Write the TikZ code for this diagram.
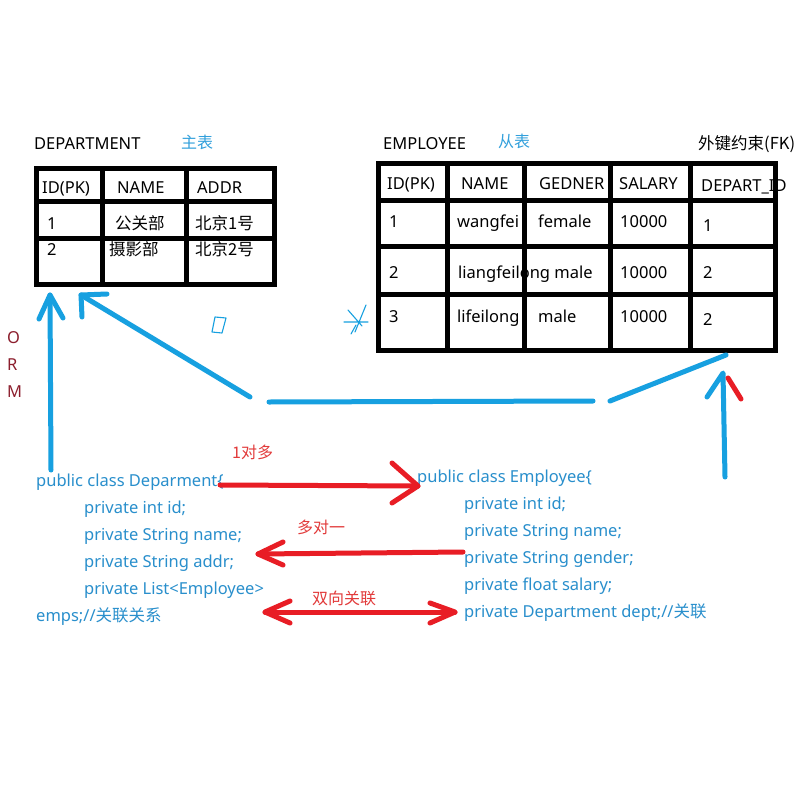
\documentclass[tikz,border=0pt]{standalone}
\usepackage{fontspec}
\setmainfont{Noto Sans}
\newfontfamily\cjk{Noto Sans CJK SC}
\definecolor{lineblue}{RGB}{23,160,224}
\definecolor{codeblue}{RGB}{41,143,204}
\definecolor{tagblue}{RGB}{50,160,220}
\definecolor{arrred}{RGB}{232,29,37}
\definecolor{labred}{RGB}{226,58,58}
\definecolor{ormred}{RGB}{140,30,45}
\begin{document}
\begin{tikzpicture}[x=1pt,y=-1pt,
  every node/.style={inner sep=0pt, anchor=base west, font=\fontsize{16.5}{19}\selectfont},
  blk/.style={draw=black, line width=5pt},
  bl/.style={draw=lineblue, line width=5pt, line cap=round, line join=round},
  thinbl/.style={draw=lineblue, line width=1.1pt, line cap=round, line join=round},
  rd/.style={draw=arrred, line width=5pt, line cap=round, line join=round},
  code/.style={text=codeblue},
  tag/.style={text=tagblue, font=\cjk\fontsize{16}{19}\selectfont},
  lab/.style={text=labred, font=\cjk\fontsize{16}{19}\selectfont},
  orm/.style={text=ormred}]
\fill[white] (0,0) rectangle (800,800);
\useasboundingbox (0,0) rectangle (800,800);

% ---- DEPARTMENT table ----
\node (dt) at (34,149) {DEPARTMENT};
\node[tag] (dtag) at (181,148) {主表};
\node (dh1) at (42,193) {ID(PK)};
\node (dh2) at (117,193) {NAME};
\node (dh3) at (197,193) {ADDR};
\node (d11) at (47,229) {1};
\node (d12) at (115,229) {\cjk 公关部};
\node (d13) at (195,229) {\cjk 北京1号};
\node (d21) at (47,255) {2};
\node (d22) at (109,255) {\cjk 摄影部};
\node (d23) at (195,255) {\cjk 北京2号};
\draw[blk] (36,168) rectangle (274,284);
\draw[blk] (102,168) -- (102,284) (186,168) -- (186,284)
           (36,201) -- (274,201) (36,238) -- (274,238);

% ---- EMPLOYEE table ----
\node (et) at (383,149) {EMPLOYEE};
\node[tag] (etag) at (498,147) {从表};
\node (fk) at (698,149) {\cjk 外键约束(FK)};
\node (eh1) at (387,189) {ID(PK)};
\node (eh2) at (461,189) {NAME};
\node (eh3) at (539,189) {GEDNER};
\node (eh4) at (619,189) {SALARY};
\node (eh5) at (701,191) {DEPART\_ID};
\node (e11) at (389,227) {1};
\node (e12) at (457,227) {wangfei};
\node (e13) at (538,227) {female};
\node (e14) at (620,227) {10000};
\node (e15) at (703,231) {1};
\node (e21) at (389,278) {2};
\node (e22) at (458,278) {liangfeilong male};
\node (e24) at (620,278) {10000};
\node (e25) at (703,278) {2};
\node (e31) at (389,322) {3};
\node (e32) at (457,322) {lifeilong};
\node (e33) at (538,322) {male};
\node (e34) at (620,322) {10000};
\node (e35) at (703,325) {2};
\draw[blk] (378,163) rectangle (775,350);
\draw[blk] (447,163) -- (447,350) (524,163) -- (524,352) (610,163) -- (610,352) (690,163) -- (690,350)
           (378,200) -- (775,200) (376,246) -- (775,246) (378,294) -- (775,294);

% ---- ORM ----
\node[orm] (o) at (7,343) {O};
\node[orm] (r) at (7,370) {R};
\node[orm] (m) at (7,397) {M};

% ---- blue connectors ----
\coordinate (a1s) at (51,470); \coordinate (a1t) at (50,295);
\coordinate (a1l) at (39,319); \coordinate (a1r) at (63,318);
\draw[bl] (a1s) -- (a1t);
\draw[bl] (a1l) -- (a1t) -- (a1r);
\coordinate (a2s) at (250,397); \coordinate (a2t) at (81,295);
\coordinate (a2l) at (107,294); \coordinate (a2r) at (82,317);
\draw[bl] (a2s) -- (a2t);
\draw[bl] (a2l) -- (a2t) -- (a2r);
\coordinate (h1) at (269,402); \coordinate (h2) at (593,401);
\draw[bl] (h1) -- (h2);
\coordinate (g1) at (610,401); \coordinate (g2) at (726,355);
\draw[bl] (g1) -- (g2);
\coordinate (a3s) at (725,477); \coordinate (a3t) at (723,373);
\coordinate (a3l) at (707,397);
\draw[bl] (a3s) -- (a3t) -- (a3l);
\coordinate (rr1) at (728,378); \coordinate (rr2) at (741,399);
\draw[rd] (rr1) -- (rr2);

% small doodles
\draw[thinbl] (215,317) -- (226,318) -- (222,333) -- (212,332) -- cycle;
\draw[thinbl] (344,322) -- (368,322) (348,310) -- (362,326) (366,305) -- (355,332) (356,325) -- (351,334);

% ---- code, left ----
\node[code] (c1) at (36,486) {public class Deparment\{};
\node[code] (c2) at (84,513) {private int id;};
\node[code] (c3) at (84,540) {private String name;};
\node[code] (c4) at (84,567) {private String addr;};
\node[code] (c5) at (84,594) {private List<Employee>};
\node[code] (c6) at (36,621) {emps;//{\cjk 关联关系}};
% ---- code, right ----
\node[code] (k1) at (417,482) {public class Employee\{};
\node[code] (k2) at (464,509) {private int id;};
\node[code] (k3) at (464,536) {private String name;};
\node[code] (k4) at (464,563) {private String gender;};
\node[code] (k5) at (464,590) {private float salary;};
\node[code] (k6) at (464,617) {private Department dept;//{\cjk 关联}};

% ---- red arrows ----
\node[lab] (l1) at (232,458) {1对多};
\coordinate (r1s) at (220,485); \coordinate (r1t) at (418,486);
\coordinate (r1a) at (392,463); \coordinate (r1b) at (392,503);
\draw[rd] (r1s) -- (r1t);
\draw[rd] (r1a) -- (r1t) -- (r1b);
\node[lab] (l2) at (297,533) {多对一};
\coordinate (r2s) at (463,552); \coordinate (r2t) at (258,554);
\coordinate (r2a) at (283,542); \coordinate (r2b) at (283,565);
\draw[rd] (r2s) -- (r2t);
\draw[rd] (r2a) -- (r2t) -- (r2b);
\node[lab] (l3) at (312,604) {双向关联};
\coordinate (r3l) at (265,612); \coordinate (r3r) at (455,612);
\coordinate (r3a) at (290,601); \coordinate (r3b) at (290,623);
\coordinate (r3c) at (430,603); \coordinate (r3d) at (430,623);
\draw[rd] (r3l) -- (r3r);
\draw[rd] (r3a) -- (r3l) -- (r3b);
\draw[rd] (r3c) -- (r3r) -- (r3d);
\end{tikzpicture}
\end{document}
